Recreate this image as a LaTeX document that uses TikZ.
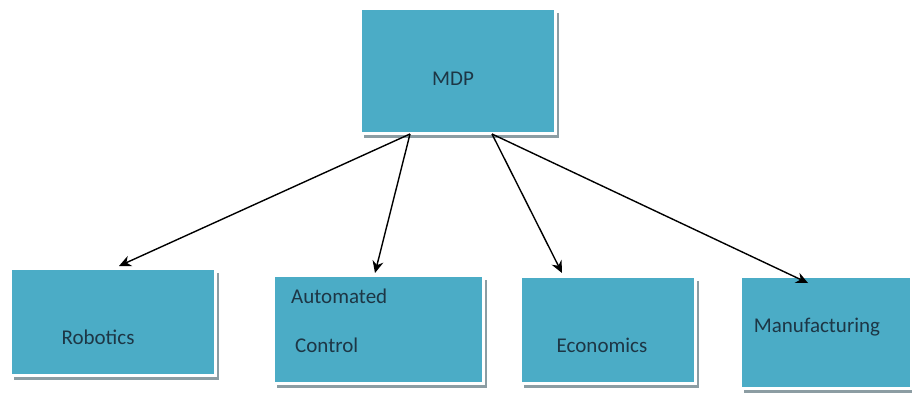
\documentclass[tikz,border=0pt]{standalone}
\usepackage{fontspec}
\setmainfont{Carlito}
\usetikzlibrary{shadows,arrows.meta}
\definecolor{boxfill}{HTML}{4BACC6}
\definecolor{boxshadow}{HTML}{8C9DA3}
\definecolor{boxtext}{HTML}{1D3645}
\tikzset{
  box/.style={rectangle, anchor=north west, inner sep=0pt, fill=boxfill, draw=white, line width=3pt,
    drop shadow={shadow xshift=4pt, shadow yshift=-5pt, fill=boxshadow, opacity=1}},
  lbl/.style={text=boxtext, font=\fontsize{21}{24}\selectfont, inner sep=0pt},
  arr/.style={-{Stealth[length=12pt,width=11pt]}, line width=1.4pt, black}
}
\begin{document}
\begin{tikzpicture}[x=1pt,y=-1pt]
\useasboundingbox[fill=white] (0,0) rectangle (912,394);
% boxes (fill extents + 1.5 for the white border centre)
\node[box, minimum width=195pt, minimum height=125pt] (mdp) at (358.5,6.5) {};
\node[box, minimum width=205pt, minimum height=107pt] (rob) at (8.5,266.5) {};
\node[box, minimum width=210pt, minimum height=108pt] (aut) at (271.5,273.5) {};
\node[box, minimum width=175pt, minimum height=107pt] (eco) at (518.5,274.5) {};
\node[box, minimum width=171pt, minimum height=112pt] (man) at (738.5,274.5) {};
% labels
\node[lbl] (tmdp) at (453,79) {MDP};
\node[lbl] (trob) at (98,337) {Robotics};
\node[lbl, anchor=west] (taut) at (291,296) {Automated};
\node[lbl, anchor=west] (tcon) at (295,345) {Control};
\node[lbl] (teco) at (602,345) {Economics};
\node[lbl] (tman) at (817,327) {Manufacturing};
% connector ends
\coordinate (s1) at (410,134);
\coordinate (s2) at (492,134);
\coordinate (e1) at (119,266);
\coordinate (e2) at (375,273);
\coordinate (e3) at (562,273);
\coordinate (e4) at (808,283);
\draw[arr] (s1) -- (e1);
\draw[arr] (s1) -- (e2);
\draw[arr] (s2) -- (e3);
\draw[arr] (s2) -- (e4);
\end{tikzpicture}
\end{document}
